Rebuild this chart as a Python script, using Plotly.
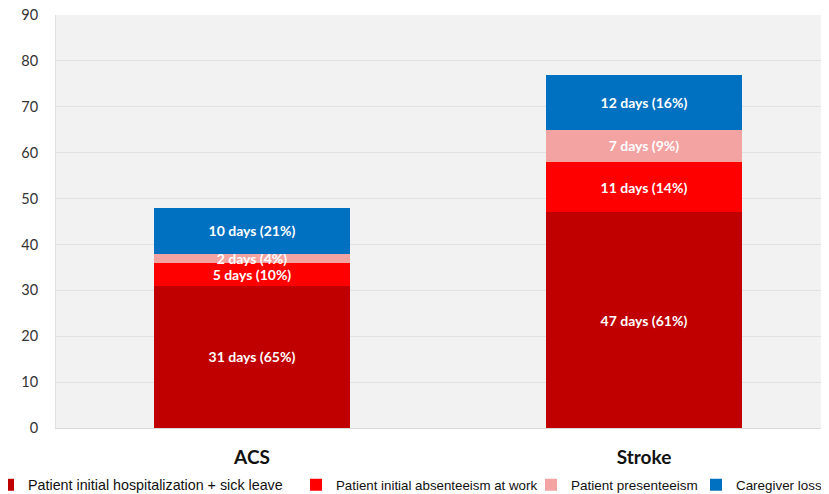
import plotly.graph_objects as go

categories = ["ACS", "Stroke"]
series_names = [
    "Patient initial hospitalization + sick leave",
    "Patient initial absenteeism at work",
    "Patient presenteeism",
    "Caregiver loss",
]
hospitalization = [31, 47]
absenteeism = [5, 11]
presenteeism = [2, 7]
caregiver = [10, 12]
hospitalization_pct = [65, 61]
absenteeism_pct = [10, 14]
presenteeism_pct = [4, 9]
caregiver_pct = [21, 16]
y_ticks = [0, 10, 20, 30, 40, 50, 60, 70, 80, 90]

colors = ["#C00000", "#FF0000", "#F4A3A3", "#0070C0"]
values = [hospitalization, absenteeism, presenteeism, caregiver]
pcts = [hospitalization_pct, absenteeism_pct, presenteeism_pct, caregiver_pct]
legend_ids = ["legend", "legend2", "legend3", "legend4"]
# page x positions (px) for each legend box
legend_x_px = [-12, 296, 531, 696]
legend_font_sizes = [14.3, 13.3, 13.5, 13.4]

# the page has an 8px body margin: size the figure so it fits the window
OFF = 8
W, H = 829 - OFF, 494 - OFF
PLOT_L, PLOT_T, PLOT_B = 56, 15, 428   # page pixels of the plot area
ML, MT = PLOT_L - OFF, PLOT_T - OFF
MB = H - (PLOT_B - OFF)
PW, PH = W - ML, H - MT - MB

fig = go.Figure()
for name, vals, pc, col, lid in zip(series_names, values, pcts, colors, legend_ids):
    fig.add_trace(go.Bar(
        x=categories, y=vals, name=name, legend=lid,
        marker=dict(color=col, line=dict(width=0)),
        text=[f"{v} days ({p}%)" for v, p in zip(vals, pc)],
        textposition="inside", insidetextanchor="middle", textangle=0,
        textfont=dict(color="white", family="Lato", size=14, weight="bold"),
        width=0.5,
    ))

legend_layout = {}
for lid, xp, fs in zip(legend_ids, legend_x_px, legend_font_sizes):
    legend_layout[lid] = dict(
        orientation="h",
        xref="paper", x=(xp - PLOT_L) / PW, xanchor="left",
        yref="paper", y=-(485 - PLOT_B) / PH, yanchor="middle",
        font=dict(family="Liberation Sans", size=fs, color="#111111"),
        itemwidth=30,
        bgcolor="rgba(0,0,0,0)",
    )

fig.update_layout(
    barmode="stack",
    width=W, height=H,
    margin=dict(l=ML, r=0, t=MT, b=MB, autoexpand=False),
    paper_bgcolor="white",
    plot_bgcolor="#F2F2F2",
    uniformtext=dict(minsize=14, mode="show"),
    showlegend=True,
    font=dict(family="Lato", color="#222222"),
    **legend_layout,
)
fig.update_xaxes(
    range=[-0.5, 1.472],
    tickmode="array", tickvals=[0, 1],
    ticktext=[f"<b>{c}</b>" for c in categories],
    tickfont=dict(family="Lato", size=19, color="#111111"),
    ticklabelstandoff=12,
    showline=True, linecolor="#D9D9D9", linewidth=1,
    showgrid=False, automargin=False,
)
fig.update_yaxes(
    range=[0, 90], tickvals=y_ticks,
    tickfont=dict(family="Lato", size=14.5, color="#333333"),
    showgrid=True, gridcolor="#E2E2E2", gridwidth=1,
    zeroline=False, showline=True, linecolor="#E0E0E0",
    ticklabelstandoff=14, automargin=False,
    ticklabeloverflow="allow",
)
fig.write_html("out.html")
